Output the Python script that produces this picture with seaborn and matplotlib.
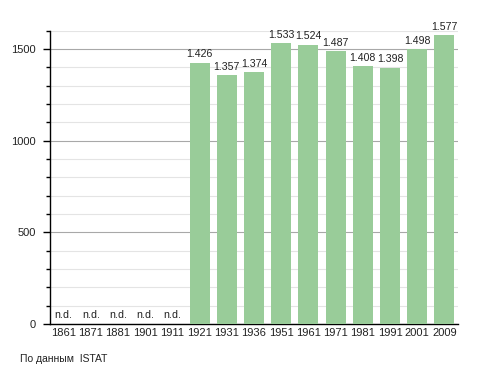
import numpy as np
import pandas as pd
import matplotlib
matplotlib.use('Agg')
import matplotlib.pyplot as plt
import seaborn as sns
from matplotlib.ticker import MultipleLocator

# dati del censimento
anni = ['1861', '1871', '1881', '1901', '1911', '1921', '1931', '1936',
        '1951', '1961', '1971', '1981', '1991', '2001', '2009']
abitanti = [np.nan, np.nan, np.nan, np.nan, np.nan, 1426, 1357, 1374,
            1533, 1524, 1487, 1408, 1398, 1498, 1577]
df = pd.DataFrame({'Anno': anni, 'Abitanti': abitanti})

sns.set_style('white')
plt.rcParams['font.family'] = ['Liberation Sans', 'DejaVu Sans']

fig = plt.figure(figsize=(4.88, 3.73), dpi=100)
ax = fig.add_axes([0.1025, 0.131, 0.836, 0.787])

sns.barplot(x='Anno', y='Abitanti', data=df, color='#99cc99', width=0.74,
            saturation=1, linewidth=0, ax=ax, zorder=3)

ax.set_ylim(0, 1600)
ax.set_xlim(-0.5, len(anni) - 0.5)
ax.yaxis.set_major_locator(MultipleLocator(500))
ax.yaxis.set_minor_locator(MultipleLocator(100))
ax.grid(axis='y', which='minor', color='#e4e4e4', lw=0.8, zorder=0)
ax.grid(axis='y', which='major', color='#a8a8a8', lw=0.8, zorder=1)
ax.grid(axis='x', visible=False)

for s in ['top', 'right']:
    ax.spines[s].set_visible(False)
ax.spines['left'].set_color('black')
ax.spines['bottom'].set_color('black')
ax.spines['left'].set_linewidth(1)
ax.spines['bottom'].set_linewidth(1)

ax.tick_params(axis='y', which='major', length=5, width=1, color='black',
               labelsize=8, left=True, pad=5, labelcolor='#222222')
ax.tick_params(axis='y', which='minor', length=3, width=1, color='black', left=True)
ax.tick_params(axis='x', length=0, labelsize=8, pad=3, labelcolor='#222222')
ax.set_xlabel('')
ax.set_ylabel('')

# etichette sopra le barre
for i, v in enumerate(abitanti):
    if np.isnan(v):
        ax.text(i, 25, 'n.d.', ha='center', va='bottom', fontsize=7.7, color='#222222')
    else:
        s = f'{int(v):,}'.replace(',', '.')
        ax.text(i, v + 18, s, ha='center', va='bottom', fontsize=7.6, color='#222222')

fig.text(0.041, 0.03, 'По данным  ISTAT', fontsize=7.5, color='#222222')

fig.savefig('out.png', dpi=100)
